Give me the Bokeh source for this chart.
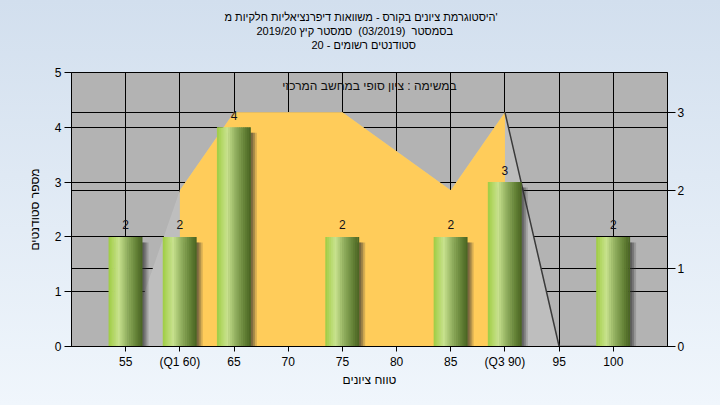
from bokeh.plotting import figure
from bokeh.models import (LinearAxis, Range1d, FixedTicker, Grid, Label, Title,
                          GlobalInlineStyleSheet)
from bokeh.core.properties import value
from bokeh.embed import file_html
from bokeh.resources import INLINE

# ---------------- data ----------------
title_lines = ["היסטוגרמת ציונים בקורס - משוואות דיפרנציאליות חלקיות מ'",
               "בסמסטר \u00a0(03/2019) \u00a0סמסטר קיץ 2019/20",
               "סטודנטים רשומים - 20"]
subtitle = "במשימה : ציון סופי במחשב המרכזי"
x_title = "טווח ציונים"
y_title = "מספר סטודנטים"
grades = [55, 60, 65, 70, 75, 80, 85, 90, 95, 100]
tick_labels = ["55", "(Q1 60)", "65", "70", "75", "80", "85", "(Q3 90)", "95", "100"]
counts = [2, 2, 4, 0, 2, 0, 2, 3, 0, 2]
curve = [0, 2, 3, 3, 3, 2.5, 2, 3, 0, 0]
q1, q3 = 60, 90
left_ticks = [0, 1, 2, 3, 4, 5]
right_ticks = [0, 1, 2, 3]

FONT = "Liberation Sans"
idx = list(range(len(grades)))

p = figure(width=704, height=389, output_backend="svg", toolbar_location=None,
           x_range=Range1d(-1, len(grades)), y_range=Range1d(0, 5),
           min_border_left=71, min_border_right=37, min_border_top=72,
           min_border_bottom=42)
p.extra_y_ranges = {"right": Range1d(0, 3.51)}
p.background_fill_color = "#B3B3B3"
p.border_fill_color = None
p.outline_line_color = "black"
p.outline_line_alpha = 1
p.stylesheets = [GlobalInlineStyleSheet(
    css="html{background:linear-gradient(to bottom,#d2dfee,#f0f6fc) fixed;}")]

# gap between the frame and the chart title
gap = Title(text=" ", text_font=FONT, text_font_size="11px")
gap.standoff = 8
p.add_layout(gap, "above")

# chart title: three lines (nearest to the frame added first)
title_offsets = [153, 185, 240]
for line, off in reversed(list(zip(title_lines, title_offsets))):
    t = Title(text=line, align="left", offset=off, text_font=FONT,
              text_font_size="11px", text_font_style="normal",
              text_color="black", text_line_height=1.0)
    t.standoff = 0
    p.add_layout(t, "above")

# grids
p.xgrid.ticker = FixedTicker(ticks=idx)
p.xgrid.grid_line_color = "black"
p.ygrid.ticker = FixedTicker(ticks=left_ticks[1:-1])
p.ygrid.grid_line_color = "black"
p.add_layout(Grid(dimension=1, ticker=FixedTicker(ticks=right_ticks[1:]),
                  y_range_name="right", grid_line_color="black"))

# axes
xa = p.xaxis[0]
xa.ticker = FixedTicker(ticks=idx)
xa.major_label_overrides = {i: t for i, t in zip(idx, tick_labels)}
ya = p.yaxis[0]
ya.ticker = FixedTicker(ticks=left_ticks)
ra = LinearAxis(y_range_name="right", ticker=FixedTicker(ticks=right_ticks))
p.add_layout(ra, "right")
for ax, tout, st in ((xa, 5, 3), (ya, 7, 3), (ra, 8, 2)):
    ax.axis_line_color = "black"
    ax.major_tick_line_color = "black"
    ax.minor_tick_line_color = None
    ax.major_tick_in = 0
    ax.major_tick_out = tout
    ax.major_label_standoff = st
    ax.major_label_text_font = FONT
    ax.major_label_text_font_size = "12px"
    ax.major_label_text_color = "black"
xa.axis_label = x_title
ya.axis_label = y_title
for ax, st in ((xa, 1), (ya, 10)):
    ax.axis_label_text_font = FONT
    ax.axis_label_text_font_size = "12px"
    ax.axis_label_text_font_style = "normal"
    ax.axis_label_text_color = "black"
    ax.axis_label_standoff = st

# areas (right axis)
p.varea(x=idx, y1=[0] * len(idx), y2=curve, fill_color="#BEBEBE",
        y_range_name="right")
i1, i3 = grades.index(q1), grades.index(q3)
p.varea(x=idx[i1:i3 + 1], y1=[0] * (i3 - i1 + 1), y2=curve[i1:i3 + 1],
        fill_color="#FFCC5A", y_range_name="right")
p.line(x=idx[i3:], y=curve[i3:], line_color="#3a3a3a", line_width=1.5,
       y_range_name="right")

# bars
bx = [i for i, c in zip(idx, counts) if c > 0]
bc = [c for c in counts if c > 0]
W = 0.62
px = 1.0 / 54.2
for off, a in ((6 * px, 0.2), (4 * px, 0.3), (2 * px, 0.35)):
    p.vbar(x=[x + off for x in bx], top=[c - 0.1 for c in bc], width=W,
           fill_color="#303030", fill_alpha=a, line_color=None)

stops = [(0.0, (158, 204, 66)), (0.12, (176, 214, 96)), (0.3, (200, 226, 142)),
         (0.55, (146, 176, 96)), (0.8, (104, 134, 58)), (1.0, (72, 98, 32))]


def grad(t):
    for (t0, c0), (t1, c1) in zip(stops[:-1], stops[1:]):
        if t <= t1:
            f = (t - t0) / (t1 - t0)
            return "#%02x%02x%02x" % tuple(int(round(a + (b - a) * f)) for a, b in zip(c0, c1))
    return "#%02x%02x%02x" % stops[-1][1]


N = 18
sw = W / N
for k in range(N):
    off = -W / 2 + (k + 0.5) * sw
    p.vbar(x=[x + off for x in bx], top=bc, width=sw * 1.35 if k < N - 1 else sw,
           fill_color=grad((k + 0.5) / N), line_color=None)

# value labels
p.text(x=bx, y=bc, text=[str(c) for c in bc], text_align="center",
       text_baseline="middle", y_offset=-12, text_font=value(FONT),
       text_font_size="12px", text_color="#10101a")

# inner title
p.add_layout(Label(x=(len(grades) - 1) / 2, y=4.75, text=subtitle,
                   text_align="center", text_baseline="middle",
                   text_font=FONT, text_font_size="12px", text_color="#101010"))

open("out.html", "w").write(file_html(p, INLINE))
